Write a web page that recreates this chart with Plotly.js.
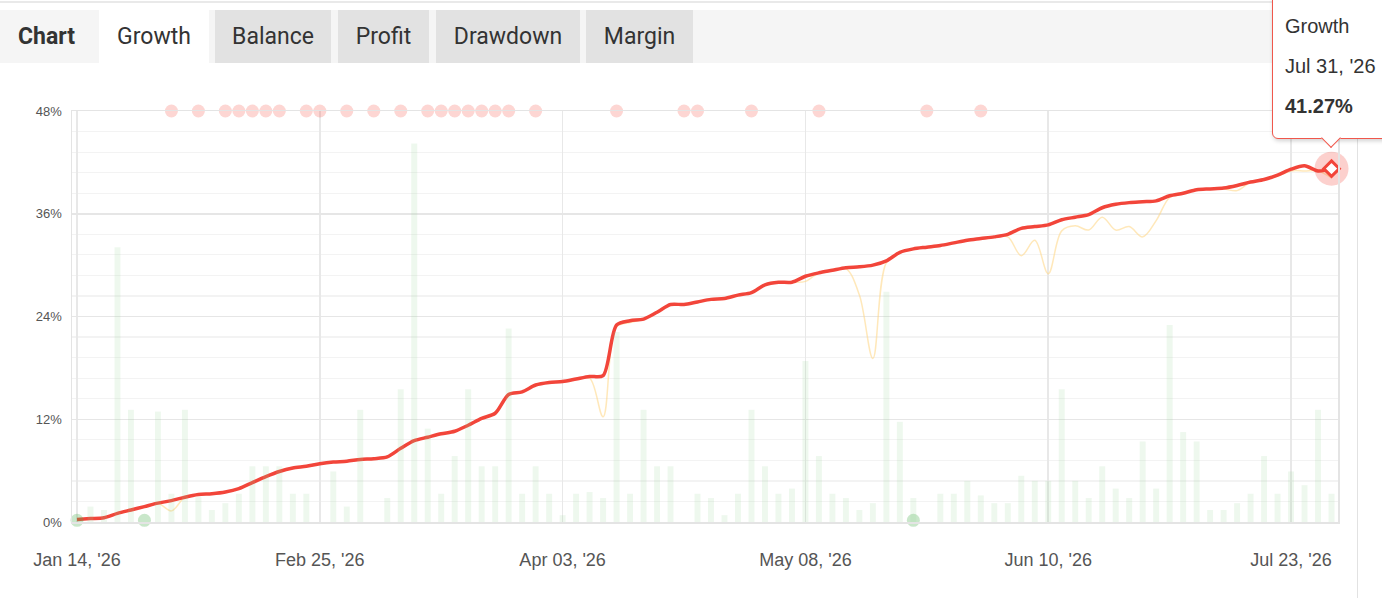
<!DOCTYPE html>
<html>
<head>
<meta charset="utf-8">
<script src="https://cdn.plot.ly/plotly-3.0.1.min.js"></script>
<style>
  html, body { margin:0; padding:0; background:#fff; overflow:hidden; }
  #wrap { position:relative; width:1382px; height:598px; }
  #chart { position:absolute; left:0; top:0; width:1382px; height:598px; }
  #topline { position:absolute; left:0; top:1px; width:1382px; height:2px; background:#e9e9e9; }
  #tabbar { position:absolute; left:0; top:10px; width:1382px; height:53px; background:#f5f5f5; font-family:Roboto, sans-serif; font-size:23px; color:#333; }
  .tab { position:absolute; top:0; height:53px; line-height:54px; text-align:center; background:#e2e2e2; }
  #vline { position:absolute; left:1357px; top:64px; width:1px; height:534px; background:#e2e2e2; }
  #tip { position:absolute; left:1272px; top:-3px; width:130px; height:140px; background:#fff; border:1.5px solid #f0574c; border-radius:0 0 0 6px; box-shadow:1px 2px 4px rgba(0,0,0,0.18); font-family:"Liberation Sans", Arial, sans-serif; font-size:20px; color:#333; }
  #tip .l { position:absolute; left:12px; }
  #arrow { position:absolute; left:1324px; top:131px; width:13px; height:13px; background:#fff; border-right:1.5px solid #f0574c; border-bottom:1.5px solid #f0574c; transform:rotate(45deg); }
</style>
</head>
<body>
<div id="wrap">
  <div id="chart"></div>
  <div id="topline"></div>
  <div id="tabbar">
    <div style="position:absolute;left:18px;top:0;line-height:54px;font-weight:bold;">Chart</div>
    <div class="tab" style="left:99px;width:110px;background:#fff;">Growth</div>
    <div class="tab" style="left:215px;width:116px;">Balance</div>
    <div class="tab" style="left:338px;width:91px;">Profit</div>
    <div class="tab" style="left:436px;width:144px;">Drawdown</div>
    <div class="tab" style="left:586px;width:107px;">Margin</div>
  </div>
  <div id="vline"></div>
  <div id="tip">
    <div class="l" style="top:17px;">Growth</div>
    <div class="l" style="top:57px;">Jul 31, '26</div>
    <div class="l" style="top:97px;font-weight:bold;">41.27%</div>
  </div>
  <div id="arrow"></div>
</div>
<script>
// ---- data ----
const tickIndex = [0, 18, 36, 54, 72, 90];
const tickLabels = ["Jan 14, '26", "Feb 25, '26", "Apr 03, '26", "May 08, '26", "Jun 10, '26", "Jul 23, '26"];

const growth = [
  0.3, 0.4, 0.5, 1.0, 1.4, 1.8, 2.2, 2.5, 2.9, 3.2,
  3.3, 3.5, 3.9, 4.6, 5.3, 5.9, 6.3, 6.5, 6.8, 7.0,
  7.1, 7.3, 7.4, 7.6, 8.6, 9.5, 9.9, 10.3, 10.6, 11.3,
  12.1, 12.7, 14.9, 15.2, 16.0, 16.3, 16.4, 16.7, 17.0, 17.1,
  23.0, 23.5, 23.7, 24.5, 25.4, 25.4, 25.7, 26.0, 26.1, 26.5,
  26.8, 27.7, 28.0, 28.0, 28.7, 29.1, 29.4, 29.7, 29.8, 30.0,
  30.5, 31.5, 31.9, 32.1, 32.3, 32.6, 32.9, 33.1, 33.3, 33.6,
  34.3, 34.5, 34.7, 35.3, 35.6, 35.9, 36.7, 37.1, 37.3, 37.4,
  37.5, 38.1, 38.4, 38.8, 38.9, 39.0, 39.3, 39.7, 40.0, 40.5,
  41.2, 41.6, 41.0, 41.27
];

const equity = [
  0.3, 0.4, 0.5, 1.0, 1.4, 1.8, 2.2, 1.3, 2.9, 3.2,
  3.3, 3.5, 3.9, 4.6, 5.3, 5.9, 6.3, 6.5, 6.8, 7.0,
  7.1, 7.3, 7.4, 7.6, 8.6, 9.5, 9.9, 10.3, 10.6, 11.3,
  12.1, 12.7, 14.9, 15.2, 16.0, 16.3, 16.4, 16.7, 16.8, 12.3,
  22.8, 23.3, 23.7, 24.5, 25.4, 25.4, 25.7, 26.0, 26.1, 26.5,
  26.8, 27.7, 28.0, 28.0, 28.1, 29.1, 29.4, 29.6, 26.5, 19.1,
  30.3, 31.5, 31.9, 32.1, 32.3, 32.6, 32.9, 33.1, 33.3, 33.3,
  31.1, 32.9, 29.0, 34.0, 34.6, 34.1, 35.6, 34.1, 34.5, 33.3,
  35.2, 37.9, 38.4, 38.8, 38.9, 38.9, 38.7, 39.7, 40.0, 40.4,
  41.0, 41.0, 41.0, 40.2
];

const volume = [
  0, 1.8, 1.4, 32.1, 13.1, 0, 12.9, 3.3, 13.1, 2.9,
  1.4, 2.2, 3.3, 6.5, 6.5, 6.5, 3.3, 3.3, 0, 5.9,
  1.8, 13.1, 0, 2.8, 15.5, 44.2, 10.9, 3.3, 7.7, 15.5,
  6.5, 6.5, 22.6, 3.3, 6.5, 3.3, 0.8, 3.3, 3.5, 2.8,
  22.2, 3.3, 13.1, 6.5, 6.5, 0, 3.3, 2.8, 0.8, 3.3,
  13.1, 6.5, 3.3, 3.9, 18.8, 7.7, 3.3, 2.8, 1.4, 2.2,
  26.9, 11.7, 2.8, 0, 3.3, 3.3, 4.8, 3.1, 2.2, 2.2,
  5.4, 4.8, 4.8, 15.5, 4.8, 2.8, 6.5, 3.9, 2.8, 9.4,
  3.9, 23.0, 10.5, 9.4, 1.4, 1.4, 2.2, 3.3, 7.7, 3.3,
  5.9, 4.3, 13.1, 3.3
];

const redEvents = [7, 9, 11, 12, 13, 14, 15, 17, 18, 20, 22, 24, 26, 27, 28, 29, 30, 31, 32, 34, 40, 45, 46, 50, 55, 63, 67];
const greenEvents = [0, 5, 62];

// ---- build ----
const idx = growth.map((_, i) => i);
const yMax = 48;
const last = growth.length - 1;

const traces = [
  { type: 'bar', x: idx, y: volume, yaxis: 'y2', width: 0.44,
    marker: { color: 'rgba(150,210,150,0.16)' }, hoverinfo: 'skip' },
  { type: 'scatter', mode: 'lines', x: idx, y: equity,
    line: { color: 'rgba(255,214,130,0.55)', width: 1.5, shape: 'spline', smoothing: 1 }, hoverinfo: 'skip' },
  { type: 'scatter', mode: 'lines', x: idx, y: growth,
    line: { color: '#f2453a', width: 3.5, shape: 'spline', smoothing: 0.8 }, hoverinfo: 'skip' },
  { type: 'scatter', mode: 'markers', x: redEvents, y: redEvents.map(() => yMax), cliponaxis: false,
    marker: { color: 'rgba(244,67,54,0.22)', size: 13 }, hoverinfo: 'skip' },
  { type: 'scatter', mode: 'markers', x: greenEvents, y: greenEvents.map(() => 0.2), cliponaxis: false,
    marker: { color: 'rgba(76,175,80,0.3)', size: 13 }, hoverinfo: 'skip' },
  { type: 'scatter', mode: 'markers', x: [last], y: [growth[last]], cliponaxis: false,
    marker: { color: 'rgba(244,67,54,0.25)', size: 34 }, hoverinfo: 'skip' },
  { type: 'scatter', mode: 'markers', x: [last], y: [growth[last]], cliponaxis: false,
    marker: { symbol: 'diamond', color: '#fff', size: 12, line: { color: '#f2453a', width: 3 } }, hoverinfo: 'skip' }
];

const layout = {
  width: 1382, height: 598,
  margin: { l: 72, r: 44, t: 111, b: 76 },
  paper_bgcolor: 'rgba(0,0,0,0)', plot_bgcolor: '#fff',
  showlegend: false, hovermode: false, bargap: 0.5,
  xaxis: {
    range: [-0.37, 93.48], tickvals: tickIndex, ticktext: tickLabels,
    showgrid: true, gridcolor: '#e8e8e8', gridwidth: 1.5, zeroline: false,
    showline: true, linecolor: '#e4e4e4', linewidth: 1.5, mirror: true,
    ticks: '', ticklabelstandoff: 21,
    tickfont: { family: '"Liberation Sans", Arial, sans-serif', size: 18, color: '#555' }
  },
  yaxis: {
    range: [0, yMax], dtick: 12, tick0: 0, ticksuffix: '%',
    showgrid: true, gridcolor: '#e6e6e6', gridwidth: 1.5, zeroline: false,
    showline: true, linecolor: '#e4e4e4', linewidth: 1.5, mirror: true,
    ticks: '', ticklabelstandoff: 6,
    minor: { dtick: 2.4, showgrid: true, gridcolor: '#f3f3f3', gridwidth: 1.2 },
    tickfont: { family: '"Liberation Sans", Arial, sans-serif', size: 13, color: '#555' }
  },
  yaxis2: { overlaying: 'y', range: [0, yMax], visible: false, showgrid: false }
};

Plotly.newPlot('chart', traces, layout, { displayModeBar: false, staticPlot: true });
</script>
</body>
</html>
